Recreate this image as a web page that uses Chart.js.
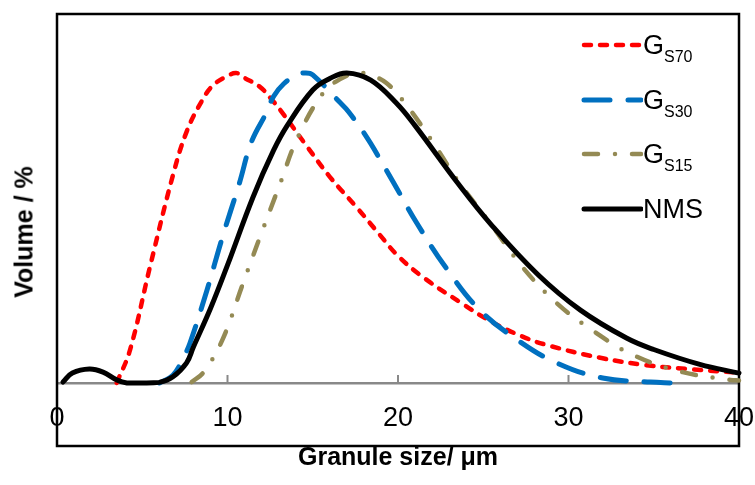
<!DOCTYPE html>
<html>
<head>
<meta charset="utf-8">
<script src="https://cdn.jsdelivr.net/npm/chart.js@4.4.0/dist/chart.umd.min.js"></script>
<style>
  html, body { margin: 0; padding: 0; background: #fff; }
  #wrap { position: relative; width: 755px; height: 485px; }
  #legend { position: absolute; left: 0; top: 0; font-family: "Liberation Sans", Arial, sans-serif; color: #000; }
  .item { position: absolute; left: 580px; height: 32px; display: flex; align-items: center; font-size: 27px; line-height: 32px; white-space: nowrap; }
  .item sub { font-size: 16px; vertical-align: -8px; line-height: 0; }
  #ytitle { position: absolute; left: 24px; top: 232px; transform: translate(-50%, -50%) rotate(-90deg); font: bold 25px "Liberation Sans", Arial, sans-serif; white-space: nowrap; color: #000; }
</style>
</head>
<body>
<div id="wrap">
  <canvas id="psd" width="755" height="485"></canvas>
  <div id="legend"></div>
  <div id="ytitle">Volume / %</div>
</div>
<script>
// granule size (µm) and volume (normalised, peak = 100)
const sizeS70 = [3.5, 4.28, 5.45, 6.8, 7.6, 8.5, 9.15, 10.0, 10.5, 10.9, 11.9, 12.5, 13.1, 14.7, 16.0, 17.6, 18.9, 20.0, 21.5, 23.8, 25.4, 27.2, 28.7, 31.8, 34.5, 37.0, 40.0];
const volS70  = [0, 10.6, 37.4, 67, 81, 91, 96, 99, 100, 98.7, 95.5, 92, 88, 76, 66.5, 56.5, 48, 41, 34, 25.5, 20, 15.2, 12.3, 8.2, 5.8, 4.5, 3.3];

const sizeS30 = [6.0, 6.8, 7.4, 7.8, 8.8, 9.7, 10.7, 11.4, 12.3, 12.7, 13.3, 14.1, 14.6, 15.0, 16.5, 17.1, 18.2, 18.8, 19.7, 21.1, 22.9, 24.8, 27.0, 29.3, 32.0, 34.8, 36.1];
const volS30  = [0, 2.5, 8, 12.9, 30, 47, 64.5, 77.7, 87.4, 92.4, 96.5, 99.4, 100, 99.4, 91, 87.5, 79, 73.5, 65, 51.6, 36.5, 23.5, 13.9, 6.5, 1.6, 0.3, 0];

const sizeS15 = [7.9, 8.6, 9.7, 10.9, 11.9, 13.1, 14.1, 15.6, 16.6, 17.6, 18.3, 19.3, 20.3, 22.0, 23.6, 25.4, 27.3, 29.3, 31.4, 33.8, 36.7, 39.5, 40.0];
const volS15  = [0.3, 3.5, 13.9, 32, 47, 64.5, 79, 93.5, 98, 100, 99.5, 96.8, 91, 78, 64.5, 51.6, 37.4, 25.8, 17, 9, 3.5, 1, 0.8];

const sizeNMS = [0.35, 0.9, 1.9, 2.7, 3.5, 4.1, 5.0, 6.0, 6.8, 7.6, 8.0, 9.0, 10.0, 11.5, 12.7, 13.5, 15.0, 16.0, 17.0, 18.4, 19.9, 21.0, 23.5, 25.4, 28.2, 30.7, 33.4, 35.0, 37.7, 40.0];
const volNMS  = [0.3, 3.2, 4.5, 3.5, 1.0, 0, 0, 0.2, 2.0, 6.5, 11.6, 24, 38, 60, 75, 83, 94.5, 98.2, 100, 97.7, 90.3, 83, 64.5, 51.5, 35, 23.5, 14.5, 10.8, 6, 3.2];

const seriesNames = ['G', 'G', 'G', 'NMS'];
const seriesSubs  = ['S70', 'S30', 'S15', ''];
const xTicks = [0, 10, 20, 30, 40];

const toPoints = (xs, ys) => xs.map((x, i) => ({ x: x, y: ys[i] }));

const datasets = [
  { label: 'GS70', data: toPoints(sizeS70, volS70), borderColor: '#FF0000', borderWidth: 4.5, borderDash: [7, 9] },
  { label: 'GS30', data: toPoints(sizeS30, volS30), borderColor: '#0070C0', borderWidth: 5, borderDash: [26, 18] },
  { label: 'GS15', data: toPoints(sizeS15, volS15), borderColor: '#948A54', borderWidth: 4.5, borderDash: [14, 17, 0, 17] },
  { label: 'NMS',  data: toPoints(sizeNMS, volNMS), borderColor: '#000000', borderWidth: 5, borderDash: [] }
];
datasets.forEach((d, i) => {
  d.pointRadius = 0;
  d.tension = 0.4;
  d.borderCapStyle = 'round';
  d.borderJoinStyle = 'round';
  d.clip = false;
  d.order = 3 - i;
});

// outer box and the small upward tick marks on the x axis
const framePlugin = {
  id: 'frame',
  beforeDatasetsDraw(chart) {
    const { ctx, chartArea: a, scales: { x } } = chart;
    ctx.save();
    ctx.strokeStyle = '#898989';
    ctx.lineWidth = 2;
    x.ticks.forEach(t => {
      const px = x.getPixelForValue(t.value);
      ctx.beginPath();
      ctx.moveTo(px, a.bottom);
      ctx.lineTo(px, a.bottom - 8);
      ctx.stroke();
    });
    ctx.strokeStyle = '#000';
    ctx.lineWidth = 2.5;
    ctx.strokeRect(a.left, a.top, a.right - a.left, a.bottom + 63 - a.top);
    ctx.restore();
  }
};

// html legend so the subscripts stay real text
const legendPlugin = {
  id: 'htmlLegend',
  afterUpdate(chart) {
    const box = document.getElementById('legend');
    box.innerHTML = '';
    chart.data.datasets.forEach((ds, i) => {
      const row = document.createElement('div');
      row.className = 'item';
      row.style.top = (29 + i * 54.5) + 'px';
      const dash = ds.borderDash.length ? ds.borderDash.join(' ') : 'none';
      row.innerHTML =
        '<svg width="63" height="32"><line x1="4" y1="16" x2="61" y2="16" stroke="' + ds.borderColor +
        '" stroke-width="' + ds.borderWidth + '" stroke-linecap="round" stroke-dasharray="' + dash + '"/></svg>' +
        '<span>' + seriesNames[i] + (seriesSubs[i] ? '<sub>' + seriesSubs[i] + '</sub>' : '') + '</span>';
      box.appendChild(row);
    });
  }
};

new Chart(document.getElementById('psd'), {
  type: 'line',
  data: { datasets: datasets },
  options: {
    responsive: false,
    animation: false,
    layout: { padding: { left: 57, right: 16, top: 14, bottom: 0 } },
    plugins: { legend: { display: false }, tooltip: { enabled: false } },
    scales: {
      x: {
        type: 'linear',
        min: 0,
        max: 40,
        afterBuildTicks: (scale) => { scale.ticks = xTicks.map(v => ({ value: v })); },
        afterFit: (scale) => {
          scale.height = 102;
          scale.paddingLeft = 0;
          scale.paddingRight = 0;
        },
        grid: { display: false, drawTicks: false },
        border: { display: true, color: '#898989', width: 2.5 },
        ticks: {
          padding: 19,
          color: '#000',
          maxRotation: 0,
          font: { family: '"Liberation Sans", Arial, sans-serif', size: 27 }
        },
        title: {
          display: true,
          text: 'Granule size/ μm',
          color: '#000',
          padding: { top: 0, bottom: 12 },
          font: { family: '"Liberation Sans", Arial, sans-serif', size: 25, weight: 'bold' }
        }
      },
      y: {
        display: false,
        min: 0,
        max: 119
      }
    }
  },
  plugins: [framePlugin, legendPlugin]
});
</script>
</body>
</html>
